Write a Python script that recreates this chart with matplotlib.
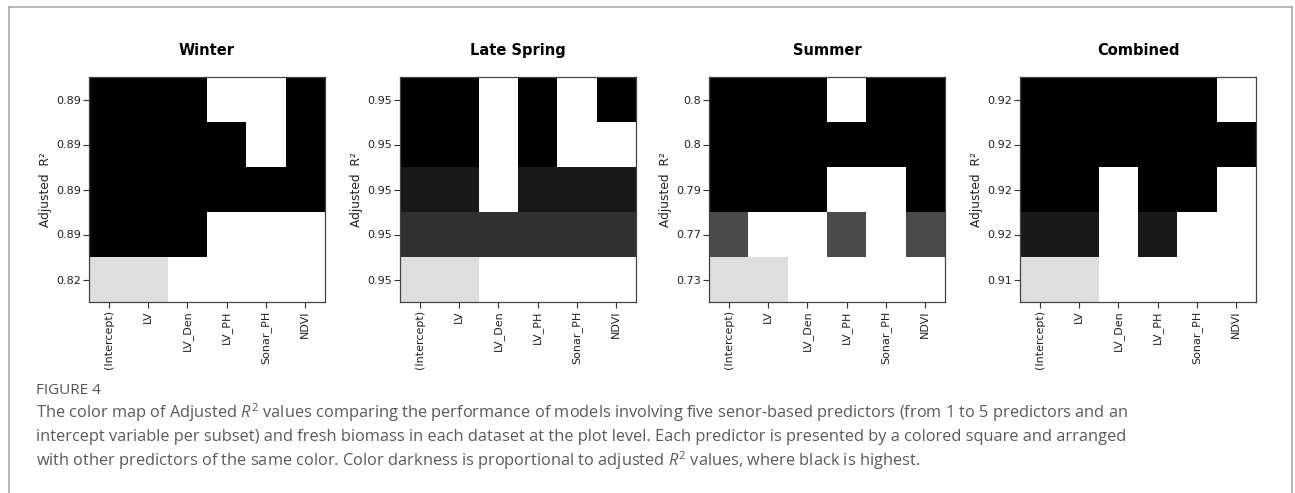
import numpy as np
import matplotlib
matplotlib.use("Agg")
import matplotlib.pyplot as plt
from matplotlib.colors import ListedColormap, Normalize
from matplotlib.lines import Line2D

# ---- data -------------------------------------------------------------
panel_titles = ["Winter", "Late Spring", "Summer", "Combined"]
predictors = ["(Intercept)", "LV", "LV_Den", "LV_PH", "Sonar_PH", "NDVI"]

# adjusted R2 of the best subsets, listed from the top row down
winter_r2 = [0.893, 0.892, 0.891, 0.889, 0.822]
spring_r2 = [0.9530, 0.9528, 0.9524, 0.9519, 0.9480]
summer_r2 = [0.7952, 0.7950, 0.7948, 0.7741, 0.7349]
combined_r2 = [0.9230, 0.9228, 0.9226, 0.9218, 0.9149]

# 1 = predictor included in the subset (same row order)
winter_in = [[1, 1, 1, 0, 0, 1],
             [1, 1, 1, 1, 0, 1],
             [1, 1, 1, 1, 1, 1],
             [1, 1, 1, 0, 0, 0],
             [1, 1, 0, 0, 0, 0]]
spring_in = [[1, 1, 0, 1, 0, 1],
             [1, 1, 0, 1, 0, 0],
             [1, 1, 0, 1, 1, 1],
             [1, 1, 1, 1, 1, 1],
             [1, 1, 0, 0, 0, 0]]
summer_in = [[1, 1, 1, 0, 1, 1],
             [1, 1, 1, 1, 1, 1],
             [1, 1, 1, 0, 0, 1],
             [1, 0, 0, 1, 0, 1],
             [1, 1, 0, 0, 0, 0]]
combined_in = [[1, 1, 1, 1, 1, 0],
               [1, 1, 1, 1, 1, 1],
               [1, 1, 0, 1, 1, 0],
               [1, 1, 0, 1, 0, 0],
               [1, 1, 0, 0, 0, 0]]

panels = [(winter_r2, winter_in), (spring_r2, spring_in),
          (summer_r2, summer_in), (combined_r2, combined_in)]

caption_head = "FIGURE 4"
caption_lines = [
    r"The color map of Adjusted $\mathit{R}^2$ values comparing the performance of models involving five senor-based predictors (from 1 to 5 predictors and an",
    "intercept variable per subset) and fresh biomass in each dataset at the plot level. Each predictor is presented by a colored square and arranged",
    r"with other predictors of the same color. Color darkness is proportional to adjusted $\mathit{R}^2$ values, where black is highest.",
]

# ---- style ------------------------------------------------------------
plt.rcParams["font.family"] = ["DejaVu Sans"]
plt.rcParams["mathtext.fontset"] = "custom"
plt.rcParams["mathtext.rm"] = "Open Sans"
plt.rcParams["mathtext.it"] = "Open Sans:italic"

# ten grey levels, light (lowest R2) to black (highest R2)
grey_levels = np.linspace(0.87, 0.0, 10)
cmap = ListedColormap([(g, g, g) for g in grey_levels])
cmap.set_bad("white")

W, H = 1295, 493
fig = plt.figure(figsize=(W / 100, H / 100), dpi=100)

ax_left_px = [89, 400, 709, 1020]
ax_w_px, ax_top_px, ax_h_px = 236, 77, 225

for (r2, inc), title, lx in zip(panels, panel_titles, ax_left_px):
    ax = fig.add_axes([lx / W, 1 - (ax_top_px + ax_h_px) / H, ax_w_px / W, ax_h_px / H])
    r2 = np.asarray(r2, dtype=float)
    inc = np.asarray(inc, dtype=bool)
    z = np.ma.masked_where(~inc, np.repeat(r2[:, None], inc.shape[1], axis=1))
    norm = Normalize(vmin=r2.min(), vmax=r2.max())
    ax.pcolormesh(np.arange(inc.shape[1] + 1), np.arange(inc.shape[0] + 1), z,
                  cmap=cmap, norm=norm, shading="flat")
    ax.set_xlim(0, inc.shape[1])
    ax.set_ylim(inc.shape[0], 0)
    ax.set_xticks(np.arange(inc.shape[1]) + 0.5)
    ax.set_xticklabels(predictors, rotation=90)
    ax.set_yticks(np.arange(inc.shape[0]) + 0.5)
    ax.set_yticklabels(["%.2g" % v for v in r2])
    ax.tick_params(length=4, width=0.8, color="#333333", labelsize=8,
                   labelcolor="#222222", pad=2)
    for s in ax.spines.values():
        s.set_color("#444444")
        s.set_linewidth(0.9)
    ax.set_ylabel("Adjusted  R²", fontsize=8.8, color="#222222", labelpad=3)
    ax.set_title(title, fontsize=10.5, fontweight="bold", pad=16)

# outer frame
frame_c = "#aaaaaa"
x0, x1, y0 = 9 / W, 1292 / W, 1 - 7 / H
fig.add_artist(Line2D([x0, x1], [y0, y0], color=frame_c, lw=1.2, transform=fig.transFigure))
fig.add_artist(Line2D([x0, x0], [y0, 0], color=frame_c, lw=1.2, transform=fig.transFigure))
fig.add_artist(Line2D([x1, x1], [y0, 0], color=frame_c, lw=1.2, transform=fig.transFigure))

# caption
fig.text(36 / W, 1 - 390 / H, caption_head, fontsize=11, color="#555555",
         family="Open Sans", va="center", ha="left")
for i, line in enumerate(caption_lines):
    fig.text(36 / W, 1 - (413 + 24 * i) / H, line, fontsize=11.75, color="#5a5a5a",
             family="Open Sans", va="center", ha="left")

fig.savefig("out.png", dpi=100, facecolor="white")
